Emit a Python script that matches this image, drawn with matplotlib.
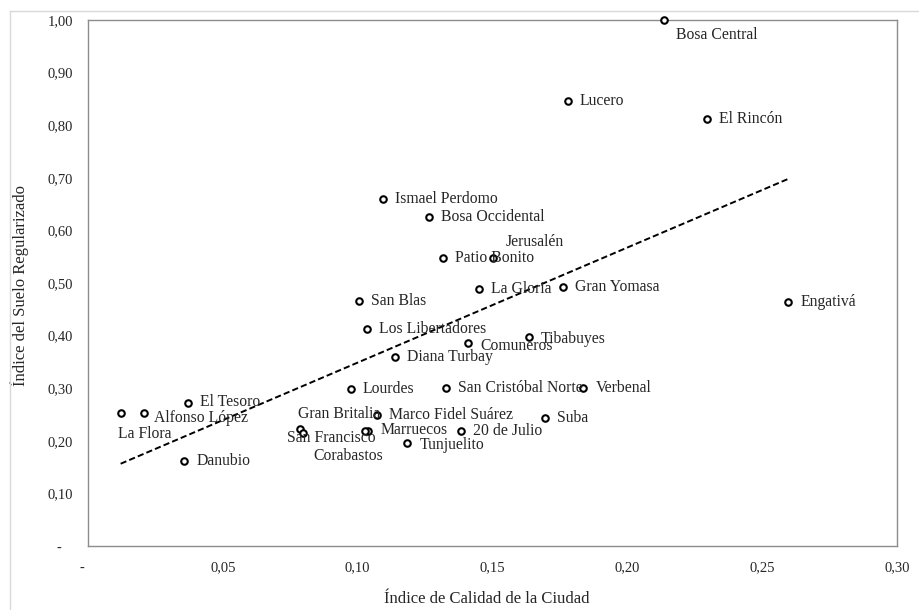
import numpy as np
import matplotlib.pyplot as plt
from matplotlib.ticker import FuncFormatter, MultipleLocator
from matplotlib.lines import Line2D

plt.rcParams["font.family"] = ["Liberation Serif", "DejaVu Serif"]

# Data
barrios = [
    "Bosa Central", "Lucero", "El Rincón", "Ismael Perdomo", "Bosa Occidental",
    "Jerusalén", "Patio Bonito", "La Gloria", "Gran Yomasa", "San Blas",
    "Engativá", "Los Libertadores", "Tibabuyes", "Comuneros", "Diana Turbay",
    "Lourdes", "San Cristóbal Norte", "Verbenal", "El Tesoro", "La Flora",
    "Alfonso López", "Gran Britalia", "Marco Fidel Suárez", "San Francisco",
    "Marruecos", "Corabastos", "20 de Julio", "Suba", "Tunjuelito", "Danubio",
]
calidad = [
    0.2137, 0.178, 0.2296, 0.1093, 0.1264,
    0.1503, 0.1315, 0.1451, 0.176, 0.1005,
    0.2597, 0.1034, 0.1636, 0.141, 0.1138,
    0.0975, 0.1327, 0.1837, 0.037, 0.0121,
    0.0209, 0.0786, 0.107, 0.0798,
    0.1039, 0.1027, 0.1385, 0.1694, 0.1184, 0.0357,
]
suelo = [
    1.000, 0.846, 0.812, 0.660, 0.626,
    0.548, 0.547, 0.489, 0.492, 0.466,
    0.464, 0.412, 0.398, 0.385, 0.359,
    0.298, 0.300, 0.300, 0.271, 0.253,
    0.253, 0.222, 0.249, 0.214,
    0.219, 0.219, 0.219, 0.243, 0.196, 0.162,
]

# label offsets in pixels (dx, dy); default is to the right of the marker
default_off = (12, 0)
label_off = {
    "Bosa Central": (12, -15),
    "Jerusalén": (12, 16),
    "La Flora": (-3, -21),
    "Gran Britalia": (-2, 15),
    "San Francisco": (-16, -5),
    "Corabastos": (-52, -25),
    "Comuneros": (12, -3),
    "Tibabuyes": (12, -2),
    "Alfonso López": (10, -5),
    "El Tesoro": (12, 1),
    "Marruecos": (12, 1),
    "Tunjuelito": (12, -2),
}

fig = plt.figure(figsize=(9.2, 6.1), dpi=100)
ax = fig.add_axes([88 / 920, 1 - 546 / 610, 809 / 920, 526 / 610])

# outer chart border (light gray, only top and left visible)
fig.add_artist(Line2D([10 / 920, 1], [1 - 11 / 610, 1 - 11 / 610],
                      transform=fig.transFigure, color="#d9d9d9", lw=1))
fig.add_artist(Line2D([10 / 920, 10 / 920], [0, 1 - 11 / 610],
                      transform=fig.transFigure, color="#d9d9d9", lw=1))

x = np.array(calidad)
y = np.array(suelo)

# linear trend line
m, b = np.polyfit(x, y, 1)
xs = np.array([x.min(), x.max()])
ax.plot(xs, m * xs + b, color="black", lw=1.4, ls=(0, (3.2, 1.6)), zorder=2)

ax.scatter(x, y, s=22, facecolor="white", edgecolor="black", linewidths=1.5,
           zorder=3, clip_on=False)

for name, xi, yi in zip(barrios, calidad, suelo):
    dx, dy = label_off.get(name, default_off)
    ax.annotate(name, (xi, yi), xytext=(dx * 0.72, dy * 0.72),
                textcoords="offset points", ha="left", va="center",
                fontsize=11.3, color="#262626", zorder=4)

ax.set_xlim(0, 0.30)
ax.set_ylim(0, 1.0)
ax.xaxis.set_major_locator(MultipleLocator(0.05))
ax.yaxis.set_major_locator(MultipleLocator(0.10))


def fmt(v, pos):
    # accounting style: zero shows as a dash with trailing padding
    if abs(v) < 1e-9:
        return "-   "
    return f"{v:.2f}".replace(".", ",")


ax.xaxis.set_major_formatter(FuncFormatter(fmt))
ax.yaxis.set_major_formatter(FuncFormatter(fmt))
ax.tick_params(axis="both", length=0, labelsize=10.5, colors="#262626")
ax.tick_params(axis="x", pad=11)
ax.tick_params(axis="y", pad=11)

for sp in ax.spines.values():
    sp.set_color("#8c8c8c")
    sp.set_linewidth(1)

ax.set_xlabel("Índice de Calidad de la Ciudad", fontsize=12, color="#262626")
ax.set_ylabel("Índice del Suelo Regularizado", fontsize=12, color="#262626")
ax.xaxis.set_label_coords(0.493, -0.086)
ax.yaxis.set_label_coords(-0.073, 0.496)

fig.savefig("out.png", dpi=100)
